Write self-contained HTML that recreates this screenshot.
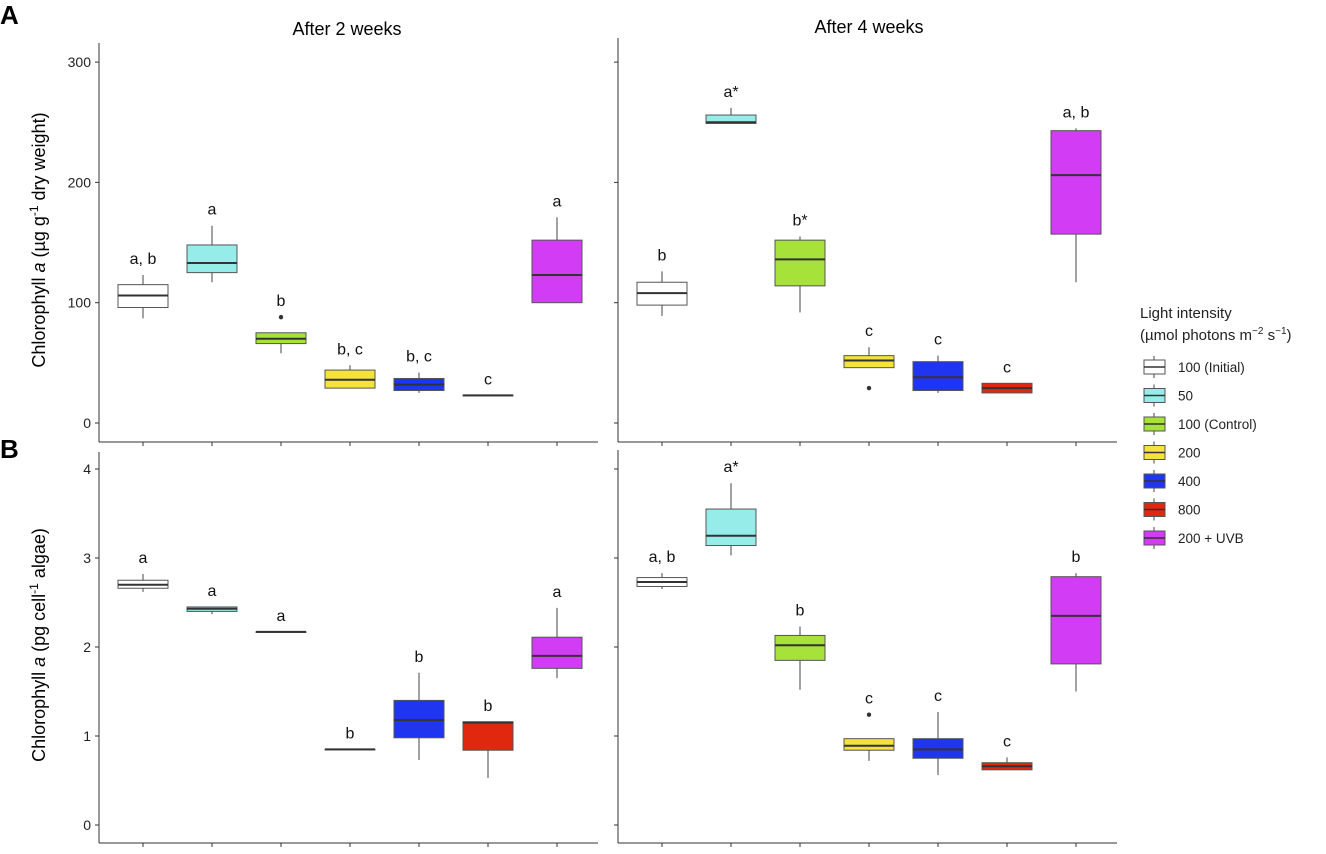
<!DOCTYPE html>
<html><head><meta charset="utf-8"><style>
body{margin:0;background:#fff;font-family:"Liberation Sans",sans-serif}
svg text{font-family:"Liberation Sans",sans-serif}
</style></head><body>
<svg id="c" width="1326" height="849"></svg>
<script>
const categories=["100 (Initial)","50","100 (Control)","200","400","800","200 + UVB"];
const colors=["#ffffff","#96ece9","#a6e23a","#f5e23a","#1f35f0","#e0280f","#d23cf5"];
// [whiskerLow, q1, median, q3, whiskerHigh]
const a2w=[[87,96,106,115,123],[117,125,133,148,164],[58,66,70,75,75],[29,29,36,44,48],[25,27,32,37,42],[23,23,23,23,23],[100,100,123,152,171]];
const a2wOut=[[],[],[88],[],[],[],[]];
const a2wLab=["a, b","a","b","b, c","b, c","c","a"];
const a4w=[[89,98,108,117,126],[249,249,250,256,262],[92,114,136,152,155],[46,46,52,56,63],[25,27,38,51,56],[25,25,29,33,33],[117,157,206,243,245]];
const a4wOut=[[],[],[],[29],[],[],[]];
const a4wLab=["b","a*","b*","c","c","c","a, b"];
const b2w=[[2.62,2.66,2.70,2.75,2.82],[2.37,2.40,2.43,2.45,2.45],[2.17,2.17,2.17,2.17,2.17],[0.85,0.85,0.85,0.85,0.85],[0.73,0.98,1.18,1.40,1.71],[0.53,0.84,1.15,1.16,1.16],[1.65,1.76,1.90,2.11,2.44]];
const b2wOut=[[],[],[],[],[],[],[]];
const b2wLab=["a","a","a","b","b","b","a"];
const b4w=[[2.65,2.68,2.73,2.78,2.83],[3.03,3.14,3.25,3.55,3.84],[1.52,1.85,2.02,2.13,2.23],[0.72,0.84,0.89,0.97,0.97],[0.56,0.75,0.85,0.97,1.27],[0.62,0.62,0.66,0.70,0.76],[1.50,1.81,2.35,2.79,2.83]];
const b4wOut=[[],[],[],[1.24],[],[],[]];
const b4wLab=["a, b","a*","b","c","c","c","b"];
const aTicks=[0,100,200,300];
const bTicks=[0,1,2,3,4];

const svg=document.getElementById('c');
const NS="http://www.w3.org/2000/svg";
function el(t,at,p){const e=document.createElementNS(NS,t);for(const k in at)e.setAttribute(k,at[k]);(p||svg).appendChild(e);return e;}
function txt(s,at,p){const e=el('text',at,p);e.textContent=s;return e;}

function panel(name,x0,x1,yTop,yBot,yScale,ticks,showLabels,data,outs,labs){
  const g=el('g',{});
  
  
  const ax=el('line',{x1:x0,y1:yTop,x2:x0,y2:yBot,stroke:'#333','stroke-width':1},g);
  
  const bx=el('line',{x1:x0,y1:yBot,x2:x1,y2:yBot,stroke:'#333','stroke-width':1},g);
  
  ticks.forEach(t=>{const y=yScale(t);
    el('line',{x1:x0-4,y1:y,x2:x0,y2:y,stroke:'#333'},g);
    if(showLabels){const tl=txt(String(t),{x:x0-8,y:y+5,'font-size':14,'text-anchor':'end',fill:'#222'},g);
      }
  });
  const step=69,first=x0+44,bw=50;
  data.forEach((d,i)=>{
    const cx=first+i*step;
    el('line',{x1:cx,y1:yBot,x2:cx,y2:yBot+4,stroke:'#333'},g);
    const bg=el('g',{},g);
    
    
    el('line',{x1:cx,y1:yScale(d[0]),x2:cx,y2:yScale(d[4]),stroke:'#444','stroke-width':1},bg);
    el('rect',{x:cx-bw/2,y:yScale(d[3]),width:bw,height:Math.max(0.5,yScale(d[1])-yScale(d[3])),fill:colors[i],stroke:'#555','stroke-width':1},bg);
    el('line',{x1:cx-bw/2,y1:yScale(d[2]),x2:cx+bw/2,y2:yScale(d[2]),stroke:'#333','stroke-width':2},bg);
    let top=yScale(d[4]);
    outs[i].forEach(o=>{const oy=yScale(o);el('circle',{cx:cx,cy:oy,r:2.2,fill:'#333'},bg);top=Math.min(top,oy);});
    const lt=txt(labs[i],{x:cx,y:top-11,'font-size':16,'text-anchor':'middle',fill:'#111'},g);
    
  });
}
const yA=v=>423-v*1.203;
const yB=v=>825-v*89;
panel('panel-a-2-weeks',99,598,43,442,yA,aTicks,true,a2w,a2wOut,a2wLab);
panel('panel-a-4-weeks',618,1117,38,442,yA,aTicks,false,a4w,a4wOut,a4wLab);
panel('panel-b-2-weeks',99,598,452,843,yB,bTicks,true,b2w,b2wOut,b2wLab);
panel('panel-b-4-weeks',618,1117,450,843,yB,bTicks,false,b4w,b4wOut,b4wLab);

let t;
t=txt('A',{x:0,y:24,'font-size':26,'font-weight':'bold'});
t=txt('B',{x:0,y:458,'font-size':26,'font-weight':'bold'});
t=txt('After 2 weeks',{x:347,y:35,'font-size':18,'text-anchor':'middle'});
t=txt('After 4 weeks',{x:869,y:33,'font-size':18,'text-anchor':'middle'});
t=el('text',{x:0,y:0,'font-size':18,'text-anchor':'middle',transform:'translate(45,240) rotate(-90)'});
t.innerHTML='Chlorophyll <tspan font-style="italic">a</tspan> (µg g<tspan dy="-7" font-size="12">-1</tspan><tspan dy="7"> dry weight)</tspan>';

t=el('text',{x:0,y:0,'font-size':18,'text-anchor':'middle',transform:'translate(45,645) rotate(-90)'});
t.innerHTML='Chlorophyll <tspan font-style="italic">a</tspan> (pg cell<tspan dy="-7" font-size="12">-1</tspan><tspan dy="7"> algae)</tspan>';


const lg=el('g',{});

txt('Light intensity',{x:1140,y:318,'font-size':15,fill:'#222'},lg);
const l2=el('text',{x:1140,y:340,'font-size':15,fill:'#222'},lg);
l2.innerHTML='(µmol photons m<tspan dy="-6" font-size="10">−2</tspan><tspan dy="6"> s</tspan><tspan dy="-6" font-size="10">−1</tspan><tspan dy="6">)</tspan>';
categories.forEach((c,i)=>{
  const y=367+i*28.5;
  const e=el('g',{},lg);
  
  
  el('line',{x1:1154,y1:y-11,x2:1154,y2:y+11,stroke:'#444'},e);
  el('rect',{x:1144,y:y-7,width:21,height:14,fill:colors[i],stroke:'#555'},e);
  el('line',{x1:1144,y1:y,x2:1165,y2:y,stroke:'#333','stroke-width':1.5},e);
  txt(c,{x:1178,y:y+5,'font-size':13.5,fill:'#222'},e);
});
</script>
</body></html>
